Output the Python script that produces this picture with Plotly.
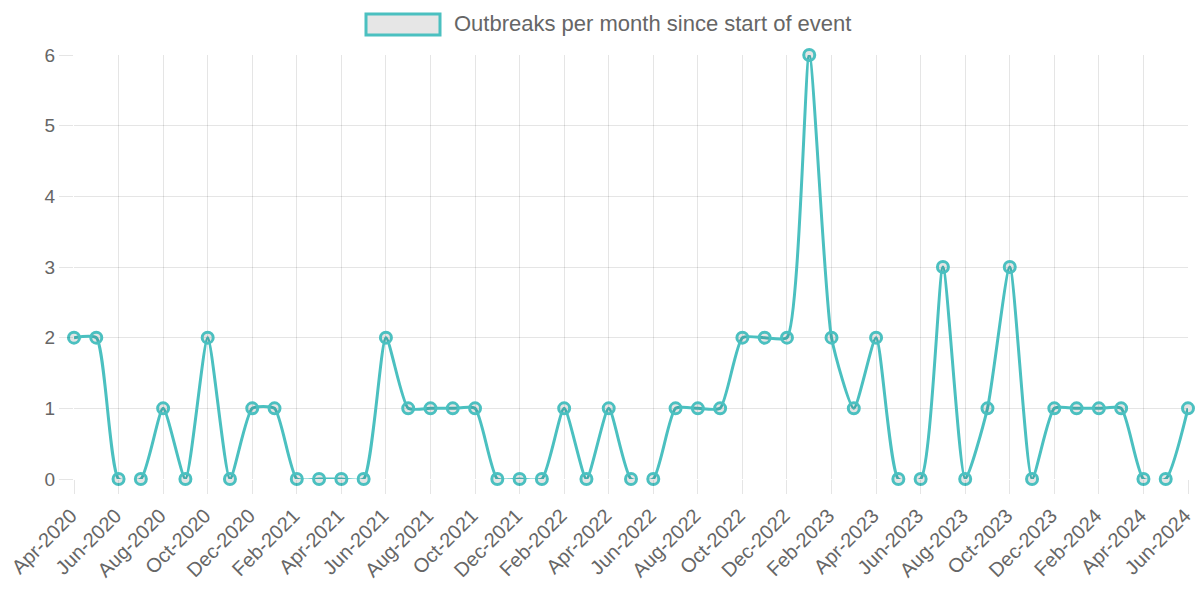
import plotly.graph_objects as go

months = [
    "Apr-2020", "May-2020", "Jun-2020", "Jul-2020", "Aug-2020", "Sep-2020", "Oct-2020", "Nov-2020", "Dec-2020",
    "Jan-2021", "Feb-2021", "Mar-2021", "Apr-2021", "May-2021", "Jun-2021", "Jul-2021", "Aug-2021", "Sep-2021",
    "Oct-2021", "Nov-2021", "Dec-2021", "Jan-2022", "Feb-2022", "Mar-2022", "Apr-2022", "May-2022", "Jun-2022",
    "Jul-2022", "Aug-2022", "Sep-2022", "Oct-2022", "Nov-2022", "Dec-2022", "Jan-2023", "Feb-2023", "Mar-2023",
    "Apr-2023", "May-2023", "Jun-2023", "Jul-2023", "Aug-2023", "Sep-2023", "Oct-2023", "Nov-2023", "Dec-2023",
    "Jan-2024", "Feb-2024", "Mar-2024", "Apr-2024", "May-2024", "Jun-2024",
]
outbreaks = [
    2, 2, 0, 0, 1, 0, 2, 0, 1,
    1, 0, 0, 0, 0, 2, 1, 1, 1,
    1, 0, 0, 0, 1, 0, 1, 0, 0,
    1, 1, 1, 2, 2, 2, 6, 2, 1,
    2, 0, 0, 3, 0, 1, 3, 0, 1,
    1, 1, 1, 0, 0, 1,
]
tick_labels = months[::2]
series_name = "Outbreaks per month since start of event"

TEAL = "rgb(75,192,192)"
GRID = "rgba(0,0,0,0.1)"
TEXT = "#666666"
FONT = "Liberation Sans, Arial, sans-serif"

W, H = 1195, 589
L, R, T, B = 74, 7, 55, 110
pw, ph = W - L - R, H - T - B


def px_x(p):
    return (p - L) / pw


def px_y(p):
    return (H - B - p) / ph


fig = go.Figure()
fig.add_trace(go.Scatter(
    x=months, y=outbreaks, mode="lines+markers", name=series_name,
    line=dict(color=TEAL, width=3, shape="spline", smoothing=0.55),
    marker=dict(size=11, color="rgba(0,0,0,0.1)", line=dict(color=TEAL, width=3)),
    cliponaxis=False, showlegend=False,
))

# legend drawn as box + text
fig.add_shape(type="rect", xref="paper", yref="paper",
              x0=px_x(366), x1=px_x(440), y0=px_y(35), y1=px_y(14),
              line=dict(color=TEAL, width=3), fillcolor="#e6e6e6", layer="above")
fig.add_annotation(xref="paper", yref="paper", x=px_x(452), y=px_y(24),
                   text=series_name, showarrow=False, xanchor="left", yanchor="middle",
                   font=dict(family=FONT, size=22, color=TEXT))

fig.update_layout(
    width=W, height=H,
    margin=dict(l=L, r=R, t=T, b=B, autoexpand=False),
    paper_bgcolor="white", plot_bgcolor="white",
    font=dict(family=FONT, size=19, color=TEXT),
    showlegend=False,
)
fig.update_xaxes(
    type="category", categoryorder="array", categoryarray=months,
    range=[0, len(months) - 1],
    tickmode="array", tickvals=tick_labels, ticktext=tick_labels,
    tickangle=-45, showgrid=True, gridcolor=GRID, gridwidth=1,
    ticks="outside", ticklen=14, tickcolor=GRID, tickwidth=1,
    ticklabelshift=-3, ticklabelstandoff=2,
    showline=False, zeroline=False, automargin=False,
    tickfont=dict(family=FONT, size=20, color=TEXT),
)
fig.update_yaxes(
    range=[0, 6], dtick=1, tick0=0,
    showgrid=True, gridcolor=GRID, gridwidth=1,
    ticks="outside", ticklen=14, tickcolor=GRID, tickwidth=1,
    showline=False, zeroline=False, automargin=False,
    tickfont=dict(family=FONT, size=19, color=TEXT),
)

fig.write_html(
    "out.html",
    config={"displayModeBar": False},
    post_script="document.body.style.margin='0';document.body.style.overflow='hidden';",
)
